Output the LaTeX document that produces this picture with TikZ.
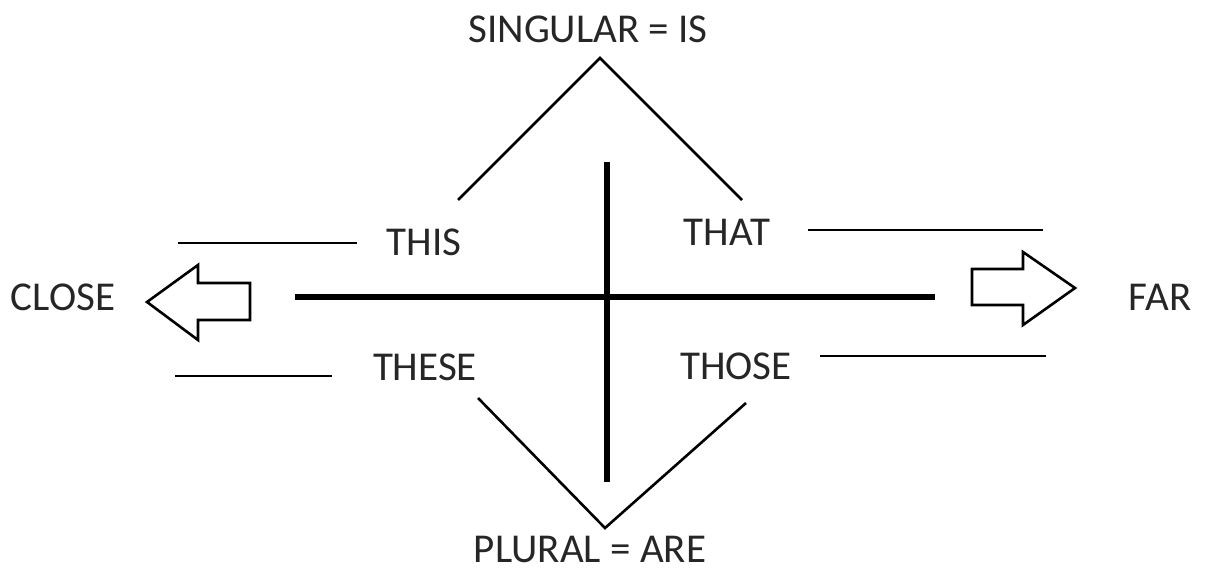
\documentclass[tikz,border=0pt]{standalone}
\usepackage{fontspec}
\setmainfont{Carlito}
\begin{document}
\begin{tikzpicture}[x=1pt,y=-1pt,
  lbl/.style={font=\fontsize{41}{44}\selectfont, inner sep=0pt, text=black!85},
  thin/.style={line width=2.6pt},
  thick/.style={line width=6pt},
  hollow/.style={line width=2.6pt, line join=miter, fill=white}]
\useasboundingbox (0,0) rectangle (1217,570);
% labels
\node[lbl] (sing) at (588,29) {SINGULAR = IS};
\node[lbl] (plur) at (590,549) {PLURAL = ARE};
\node[lbl] (this) at (424,242) {THIS};
\node[lbl] (that) at (727,232) {THAT};
\node[lbl] (these) at (425,367) {THESE};
\node[lbl] (those) at (736,366) {THOSE};
\node[lbl] (close) at (63,297) {CLOSE};
\node[lbl] (far) at (1160,297) {FAR};
% coordinates
\coordinate (top) at (600,58);
\coordinate (tl) at (458,200);
\coordinate (tr) at (742,200);
\coordinate (bot) at (605,528);
\coordinate (bl) at (478,398);
\coordinate (br) at (746,403);
\coordinate (vt) at (607,162);
\coordinate (vb) at (607,482);
\coordinate (hl) at (295,297);
\coordinate (hr) at (935,297);
\coordinate (ul1) at (178,243); \coordinate (ul2) at (357,243);
\coordinate (ll1) at (175,376); \coordinate (ll2) at (332,376);
\coordinate (ur1) at (808,230); \coordinate (ur2) at (1043,230);
\coordinate (lr1) at (820,356); \coordinate (lr2) at (1046,356);
% V shapes
\draw[thin] (tl) -- (top) -- (tr);
\draw[thin] (bl) -- (bot) -- (br);
% cross
\draw[thick] (vt) -- (vb);
\draw[thick] (hl) -- (hr);
% side lines
\draw[thin] (ul1) -- (ul2);
\draw[thin] (ll1) -- (ll2);
\draw[thin] (ur1) -- (ur2);
\draw[thin] (lr1) -- (lr2);
% hollow arrows
\draw[hollow] (147,302) -- (198,265) -- (198,283) -- (250,283) -- (250,320) -- (198,320) -- (198,340) -- cycle;
\draw[hollow] (1075,288) -- (1023,252) -- (1023,269) -- (972,269) -- (972,305) -- (1023,305) -- (1023,325) -- cycle;
\end{tikzpicture}
\end{document}
